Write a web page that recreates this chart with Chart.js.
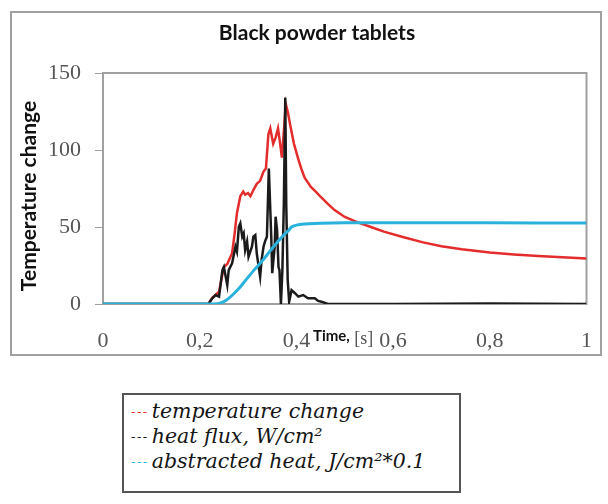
<!DOCTYPE html>
<html>
<head>
<meta charset="utf-8">
<script src="https://cdn.jsdelivr.net/npm/chart.js@4/dist/chart.umd.min.js"></script>
<style>
  html, body { margin: 0; padding: 0; background: #fff; }
  body { width: 608px; height: 504px; position: relative; overflow: hidden; }
  #wrap { position: absolute; left: 0; top: 0; width: 608px; height: 370px; }
  #legend {
    position: absolute; left: 122px; top: 393px; width: 339px; height: 100px;
    border: 2px solid #555; box-sizing: border-box; padding: 4px 0 0 7px;
    font-family: "DejaVu Serif", serif; font-style: italic; font-size: 20.5px;
    color: #151515; line-height: 24px; white-space: nowrap;
  }
  #legend .dash { letter-spacing: 1.5px; margin-right: 3px; font-style: normal; font-size: 13px; vertical-align: 2px; }
</style>
</head>
<body>
<div id="wrap"><canvas id="c" width="608" height="370"></canvas></div>
<div id="legend"></div>
<script>
// ---- data ----
const chartTitle = 'Black powder tablets';
const yTitle = 'Temperature change';
const seriesNames = ['temperature change', 'heat flux, W/cm²', 'abstracted heat, J/cm²*0.1'];
const seriesColors = ['#e42c2c', '#1b1b1b', '#2ab2dc'];

const xTickLabels = ['0', '0,2', '0,4', '0,6', '0,8', '1'];
const yTickValues = [0, 50, 100, 150];

const tempTime = [0, 0.218, 0.226, 0.24, 0.25, 0.257, 0.267, 0.272, 0.277, 0.284, 0.29, 0.294, 0.30, 0.305, 0.311, 0.318, 0.325, 0.332, 0.337, 0.342, 0.346, 0.352, 0.357, 0.362, 0.366, 0.370, 0.374, 0.378, 0.382, 0.388, 0.395, 0.403, 0.41, 0.417, 0.43, 0.44, 0.452, 0.465, 0.479, 0.50, 0.527, 0.554, 0.581, 0.62, 0.662, 0.70, 0.742, 0.80, 0.85, 0.90, 0.95, 1.0];
const tempValues = [0, 0, 4, 8, 24, 26, 33, 45, 59, 70, 73, 71, 72, 70, 74, 78, 80, 86, 88, 110, 114, 104, 108, 114, 105, 95, 112, 130, 125, 115, 104, 95, 88, 82, 76, 73, 69, 65, 61, 56.5, 53, 50, 47, 43.5, 40, 37.5, 35.5, 33.5, 32.2, 31.2, 30.3, 29.6];

const fluxTime = [0, 0.218, 0.226, 0.233, 0.240, 0.247, 0.250, 0.257, 0.260, 0.267, 0.274, 0.277, 0.281, 0.284, 0.288, 0.291, 0.294, 0.298, 0.301, 0.308, 0.311, 0.315, 0.318, 0.325, 0.328, 0.332, 0.335, 0.339, 0.343, 0.348, 0.350, 0.355, 0.357, 0.360, 0.363, 0.365, 0.368, 0.371, 0.374, 0.377, 0.379, 0.382, 0.385, 0.39, 0.397, 0.404, 0.414, 0.424, 0.438, 0.445, 0.452, 0.465, 0.6, 0.8, 1.0];
const fluxValues = [0, 0, 3.7, 5.8, 4.8, 22, 24, 12.3, 22, 26.4, 37.2, 34, 50.2, 52.4, 43.7, 45.9, 35, 40.5, 30.7, 37.2, 43.7, 44.8, 32.9, 17.7, 28.6, 37.2, 40.5, 43.7, 88, 43.7, 20, 37, 56.7, 48, 24, 22, 0, 22, 65, 134, 65, 15.6, 1.5, 9, 7, 4.8, 5.8, 3.7, 3.7, 2, 1.5, 0, 0, 0.3, 0];

const heatTime = [0, 0.22, 0.24, 0.25, 0.26, 0.27, 0.281, 0.29, 0.301, 0.311, 0.322, 0.332, 0.342, 0.352, 0.363, 0.373, 0.383, 0.39, 0.40, 0.42, 0.45, 0.5, 0.6, 0.8, 1.0];
const heatValues = [0, 0, 0.4, 1.5, 3.7, 6.5, 10, 13.5, 17.7, 21.5, 25.3, 29, 33, 37, 41, 44.5, 47.5, 50, 51.2, 52, 52.5, 52.8, 52.8, 52.7, 52.6];

const toPoints = (xs, ys) => xs.map((x, i) => ({ x: x, y: ys[i] }));

// ---- legend (HTML, built from the series arrays) ----
const legendEl = document.getElementById('legend');
seriesNames.forEach((name, i) => {
  const row = document.createElement('div');
  const d = document.createElement('span');
  d.className = 'dash'; d.style.color = seriesColors[i]; d.textContent = '---';
  row.appendChild(d);
  row.appendChild(document.createTextNode(name));
  legendEl.appendChild(row);
});

const decorPlugin = {
  id: 'decor',
  beforeDraw(chart) {
    const ctx = chart.ctx;
    ctx.save();
    ctx.strokeStyle = '#a0a0a0';
    ctx.lineWidth = 2;
    ctx.strokeRect(11, 12, 590, 343);
    ctx.restore();
  },
  beforeDatasetsDraw(chart) {
    const { ctx, chartArea: a } = chart;
    ctx.save();
    ctx.strokeStyle = '#a0a0a0';
    ctx.lineWidth = 2;
    ctx.strokeRect(a.left, a.top, a.right - a.left, a.bottom - a.top);
    ctx.restore();
  },
  afterDraw(chart) {
    const { ctx } = chart;
    ctx.save();
    ctx.fillStyle = '#111';
    ctx.textAlign = 'center';
    ctx.textBaseline = 'middle';
    ctx.font = 'bold 21px Lato';
    ctx.fillText(chartTitle, 317, 33);
    // y title
    ctx.save();
    ctx.translate(29, 196);
    ctx.rotate(-Math.PI / 2);
    ctx.font = 'bold 21px Lato';
    ctx.fillText(yTitle, 0, 0);
    ctx.restore();
    // x title: "Time" bold + ", [s]"
    ctx.textAlign = 'left';
    ctx.textBaseline = 'alphabetic';
    ctx.font = 'bold 15px Lato';
    const tx = 313, ty = 341;
    ctx.fillText('Time,', tx, ty);
    const w = ctx.measureText('Time,').width;
    ctx.font = '18px "Liberation Serif"';
    ctx.fillStyle = '#555';
    ctx.fillText(' [s]', tx + w, ty + 3);
    ctx.restore();
  }
};

new Chart(document.getElementById('c'), {
  type: 'line',
  data: {
    datasets: [
      { label: seriesNames[0], data: toPoints(tempTime, tempValues), borderColor: seriesColors[0], borderWidth: 2.5, pointRadius: 0, tension: 0, order: 3 },
      { label: seriesNames[1], data: toPoints(fluxTime, fluxValues), borderColor: seriesColors[1], borderWidth: 2.5, pointRadius: 0, tension: 0, order: 2 },
      { label: seriesNames[2], data: toPoints(heatTime, heatValues), borderColor: seriesColors[2], borderWidth: 3, pointRadius: 0, cubicInterpolationMode: 'monotone', order: 1 }
    ]
  },
  options: {
    responsive: false,
    animation: false,
    events: [],
    layout: { padding: { top: 73, right: 17, left: 0, bottom: 0 } },
    plugins: { legend: { display: false }, title: { display: false }, tooltip: { enabled: false } },
    scales: {
      x: {
        type: 'linear', min: 0, max: 1,
        afterFit(scale) { scale.height = 66; },
        afterBuildTicks(scale) { scale.ticks = xTickLabels.map((l, i) => ({ value: i * 0.2 })); },
        ticks: {
          padding: 16, color: '#555', maxRotation: 0, autoSkip: false,
          font: { family: 'Liberation Serif', size: 22 },
          callback: (v, i) => xTickLabels[i]
        },
        grid: { display: false },
        border: { display: true, color: '#a0a0a0', width: 2 }
      },
      y: {
        min: 0, max: 150,
        afterFit(scale) { scale.width = 103; },
        afterBuildTicks(scale) { scale.ticks = yTickValues.map(v => ({ value: v })); },
        ticks: {
          padding: 14, color: '#555',
          font: { family: 'Liberation Serif', size: 22 }
        },
        grid: { drawOnChartArea: false, drawTicks: true, tickLength: 8, color: '#a0a0a0', lineWidth: 1 },
        border: { display: true, color: '#a0a0a0', width: 2 }
      }
    }
  },
  plugins: [decorPlugin]
});
</script>
</body>
</html>
